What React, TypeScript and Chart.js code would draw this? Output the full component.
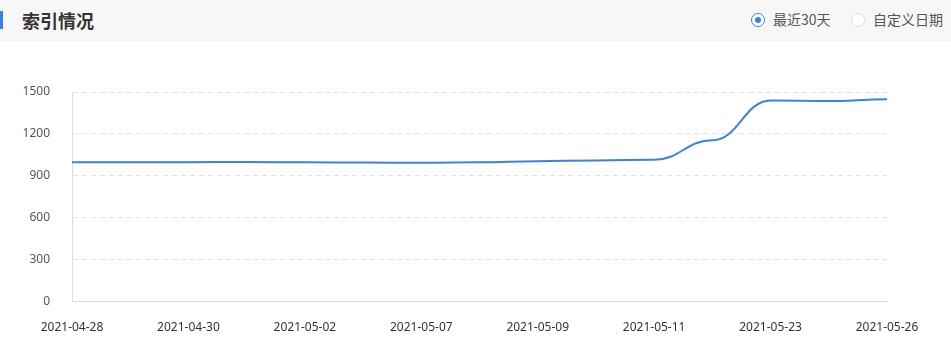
import React, { useEffect, useRef } from "react";
import { Chart, registerables } from "chart.js";

Chart.register(...registerables);

const categories = [
  "2021-04-28", "2021-04-29", "2021-04-30", "2021-05-01", "2021-05-02",
  "2021-05-06", "2021-05-07", "2021-05-08", "2021-05-09", "2021-05-10",
  "2021-05-11", "2021-05-12", "2021-05-23", "2021-05-24", "2021-05-26",
];
const indexCounts = [997, 997, 998, 999, 997, 995, 993, 997, 1005, 1010, 1015, 1155, 1440, 1435, 1448];
const yTicks = [0, 300, 600, 900, 1200, 1500];

const FONT = "'Noto Sans', 'Noto Sans CJK SC', sans-serif";

// Smooth the line with horizontal tangents at each data point (ECharts-like look).
const flatTangentSmoothing = {
  id: "flatTangentSmoothing",
  beforeDatasetDraw(chart: any, args: any) {
    const meta = args.meta;
    const line = meta.dataset;
    if (!line) return;
    line.updateControlPoints(chart.chartArea, meta.iScale.axis);
    const pts = meta.data;
    const t = 0.45;
    for (let i = 0; i < pts.length; i++) {
      const p = pts[i];
      const prev = pts[i - 1];
      const next = pts[i + 1];
      p.cp1x = prev ? p.x - (p.x - prev.x) * t : p.x;
      p.cp1y = p.y;
      p.cp2x = next ? p.x + (next.x - p.x) * t : p.x;
      p.cp2y = p.y;
    }
    line._path = undefined;
  },
};

export default function App() {
  const ref = useRef<HTMLCanvasElement | null>(null);

  useEffect(() => {
    document.body.style.margin = "0";
    if (!ref.current) return;
    const chart = new Chart(ref.current, {
      type: "line",
      data: {
        labels: categories,
        datasets: [
          {
            data: indexCounts,
            borderColor: "#3f80e0",
            borderWidth: 2,
            pointRadius: 0,
            pointHoverRadius: 0,
            tension: 0.4,
            fill: false,
          },
        ],
      },
      options: {
        animation: false,
        responsive: false,
        maintainAspectRatio: false,
        layout: { padding: { top: 51, right: 64, left: 0, bottom: 0 } },
        plugins: { legend: { display: false }, tooltip: { enabled: false } },
        scales: {
          x: {
            type: "category",
            offset: false,
            grid: { display: false, drawTicks: false },
            border: { display: true, color: "#dcdcdc", width: 1 },
            ticks: {
              autoSkip: false,
              maxRotation: 0,
              padding: 19,
              color: "#333",
              font: { size: 12, family: FONT },
              callback: (_v: any, i: number) => (i % 2 === 0 ? categories[i] : ""),
            },
          },
          y: {
            min: 0,
            max: 1500,
            afterBuildTicks: (axis: any) => {
              axis.ticks = yTicks.map((v) => ({ value: v }));
            },
            afterFit: (axis: any) => {
              axis.width = 72;
            },
            grid: { color: "#e3e3e3", drawTicks: false, lineWidth: 1 },
            border: { display: true, color: "#dcdcdc", dash: [5, 4] },
            ticks: {
              padding: 22,
              color: "#555",
              font: { size: 12, family: FONT },
              callback: (v: any) => String(v),
            },
          },
        },
      },
      plugins: [flatTangentSmoothing],
    });
    return () => chart.destroy();
  }, []);

  return (
    <div style={{ position: "relative", width: 951, height: 347, overflow: "hidden", background: "#fff", fontFamily: FONT }}>
      <div style={{ position: "absolute", left: 0, top: 0, width: 951, height: 41, background: "#f7f7f7" }}>
        <div style={{ position: "absolute", left: 0, top: 11, width: 3, height: 18, background: "#3d7ee6" }} />
        <div
          style={{
            position: "absolute",
            left: 22,
            top: 7,
            fontSize: 18,
            fontWeight: 700,
            color: "#333",
            lineHeight: "26px",
            fontFamily: "'Noto Sans CJK SC', sans-serif",
          }}
        >
          索引情况
        </div>
        <div
          style={{
            position: "absolute",
            left: 751,
            top: 13,
            width: 12,
            height: 12,
            borderRadius: "50%",
            border: "1px solid #3f80e0",
            background: "#fff",
          }}
        >
          <div style={{ position: "absolute", left: 3, top: 3, width: 6, height: 6, borderRadius: "50%", background: "#3f80e0" }} />
        </div>
        <div
          style={{
            position: "absolute",
            left: 773,
            top: 9,
            fontSize: 14,
            color: "#555",
            lineHeight: "20px",
            fontFamily: "'Noto Sans CJK SC', sans-serif",
          }}
        >
          最近30天
        </div>
        <div
          style={{
            position: "absolute",
            left: 851,
            top: 13,
            width: 12,
            height: 12,
            borderRadius: "50%",
            border: "1px solid #dedede",
            background: "#fff",
          }}
        />
        <div
          style={{
            position: "absolute",
            left: 873,
            top: 9,
            fontSize: 14,
            color: "#555",
            lineHeight: "20px",
            fontFamily: "'Noto Sans CJK SC', sans-serif",
          }}
        >
          自定义日期
        </div>
      </div>
      <canvas ref={ref} width={951} height={313} style={{ position: "absolute", left: 0, top: 41, width: 951, height: 313 }} />
    </div>
  );
}
